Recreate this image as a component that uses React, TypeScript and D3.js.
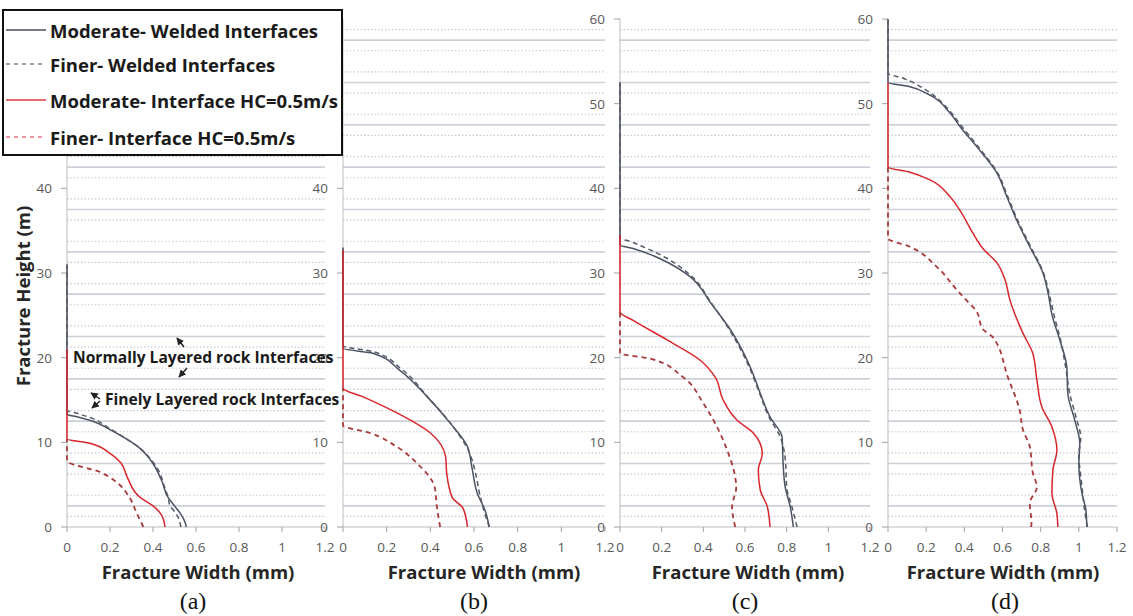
import React from "react";
import * as d3 from "d3";

// ---------- DATA (width mm, height m) ----------
const xTicks = [0, 0.2, 0.4, 0.6, 0.8, 1, 1.2];
const yTicks = [0, 10, 20, 30, 40, 50, 60];
const normalInterfaces = [2.5, 7.5, 12.5, 17.5, 22.5, 27.5, 32.5, 37.5, 42.5, 47.5, 52.5, 57.5];
const fineInterfaces = [1.25, 3.75, 6.25, 8.75, 11.25, 13.75, 16.25, 18.75, 21.25, 23.75, 26.25, 28.75, 31.25, 33.75, 36.25, 38.75, 41.25, 43.75, 46.25, 48.75, 51.25, 53.75, 56.25, 58.75];

const panelLabels = ["(a)", "(b)", "(c)", "(d)"];
const legendLabels = [
  "Moderate- Welded Interfaces",
  "Finer- Welded Interfaces",
  "Moderate- Interface HC=0.5m/s",
  "Finer- Interface HC=0.5m/s",
];

// panel (a)
const aModWelded: [number, number][] = [[0.555, 0], [0.55, 0.5], [0.53, 1.5], [0.5, 2.5], [0.47, 3.5], [0.44, 5.5], [0.4, 7.5], [0.37, 8.5], [0.33, 9.5], [0.27, 10.5], [0.2, 11.5], [0.12, 12.5], [0.05, 13.0], [0, 13.3], [0, 31]];
const aFineWelded: [number, number][] = [[0.53, 0], [0.51, 1.5], [0.48, 2.5], [0.47, 3.5], [0.45, 5], [0.43, 6.5], [0.39, 8], [0.34, 9.3], [0.27, 10.5], [0.2, 11.6], [0.12, 12.8], [0.05, 13.4], [0, 13.8], [0, 31]];
const aModHC: [number, number][] = [[0.456, 0], [0.44, 1.4], [0.4, 2.5], [0.34, 3.5], [0.28, 5.9], [0.25, 7.6], [0.2, 8.7], [0.107, 9.9], [0, 10.4], [0, 21]];
const aFineHC: [number, number][] = [[0.355, 0], [0.325, 1.6], [0.29, 3.5], [0.23, 5.3], [0.153, 6.5], [0, 7.8], [0, 10.4]];

// panel (b)
const bModWelded: [number, number][] = [[0.67, 0], [0.65, 2.0], [0.615, 4.0], [0.59, 7.1], [0.57, 9.5], [0.49, 12.3], [0.385, 15.4], [0.26, 18.5], [0.14, 20.5], [0, 21.1], [0, 33]];
const bFineWelded: [number, number][] = [[0.67, 0], [0.645, 2.0], [0.625, 4.0], [0.61, 6.0], [0.575, 9.0], [0.5, 12.0], [0.39, 15.3], [0.27, 18.6], [0.14, 20.7], [0, 21.4], [0, 33]];
const bModHC: [number, number][] = [[0.57, 0], [0.55, 2.2], [0.5, 3.5], [0.475, 6.4], [0.47, 8.3], [0.4, 11.1], [0.245, 13.5], [0.09, 15.4], [0, 16.4], [0, 32.7]];
const bFineHC: [number, number][] = [[0.445, 0], [0.43, 2.4], [0.42, 4.7], [0.34, 7.5], [0.245, 9.5], [0.124, 11.1], [0, 12.0], [0, 16.4]];

// panel (c)
const cModWelded: [number, number][] = [[0.832, 0], [0.817, 2.4], [0.793, 4.7], [0.783, 7.5], [0.778, 10.6], [0.72, 13.0], [0.673, 15.8], [0.625, 18.9], [0.53, 23.3], [0.44, 26.3], [0.33, 29.7], [0.2, 31.6], [0.063, 32.9], [0, 33.3], [0, 52.5]];
const cFineWelded: [number, number][] = [[0.85, 0], [0.825, 2.4], [0.8, 4.7], [0.795, 7.5], [0.77, 10.6], [0.715, 13.0], [0.67, 15.8], [0.62, 18.9], [0.525, 23.3], [0.44, 26.4], [0.34, 29.7], [0.22, 31.8], [0.12, 33.0], [0.04, 33.8], [0, 34.1], [0, 52.5]];
const cModHC: [number, number][] = [[0.72, 0], [0.707, 2.4], [0.673, 4.4], [0.664, 6.7], [0.683, 8.7], [0.64, 11.1], [0.562, 12.6], [0.495, 15.0], [0.457, 17.7], [0.385, 19.7], [0.226, 22.1], [0.063, 24.4], [0, 25.4], [0, 34.5]];
const cFineHC: [number, number][] = [[0.553, 0], [0.538, 2.4], [0.558, 4.7], [0.553, 5.9], [0.514, 9.1], [0.466, 11.8], [0.4, 14.6], [0.303, 17.7], [0.144, 19.9], [0, 20.5], [0, 25.4]];

// panel (d)
const dModWelded: [number, number][] = [[1.042, 0], [1.037, 2.0], [1.016, 4.0], [1.0, 7.5], [1.005, 9.9], [0.979, 12.6], [0.942, 15.8], [0.937, 18.9], [0.9, 22.1], [0.86, 25.0], [0.84, 27.5], [0.812, 30.0], [0.743, 33.1], [0.675, 36.2], [0.623, 39.0], [0.571, 41.8], [0.466, 44.9], [0.377, 47.3], [0.325, 48.9], [0.204, 51.2], [0.115, 52.0], [0, 52.5], [0, 60]];
const dFineWelded: [number, number][] = [[1.045, 0], [1.03, 2.0], [1.02, 4.0], [1.01, 6.0], [1.0, 8.5], [1.01, 10.5], [0.985, 13.0], [0.955, 15.5], [0.93, 19.0], [0.905, 22.0], [0.87, 25.0], [0.845, 27.5], [0.815, 30.0], [0.75, 33.0], [0.68, 36.2], [0.628, 39.0], [0.575, 41.8], [0.47, 45.0], [0.38, 47.5], [0.31, 49.5], [0.2, 51.6], [0.08, 53.0], [0, 53.6], [0, 60]];
const dModHC: [number, number][] = [[0.89, 0], [0.885, 1.6], [0.859, 4.0], [0.864, 6.7], [0.885, 9.1], [0.859, 11.8], [0.806, 14.2], [0.78, 17.4], [0.759, 20.5], [0.707, 22.9], [0.639, 26.8], [0.613, 29.2], [0.571, 31.2], [0.497, 32.9], [0.445, 34.7], [0.377, 37.4], [0.325, 39.0], [0.22, 41.0], [0.115, 41.9], [0, 42.5], [0, 52.5]];
const dFineHC: [number, number][] = [[0.75, 0], [0.752, 0.5], [0.743, 2.8], [0.78, 4.7], [0.759, 6.4], [0.743, 9.5], [0.707, 11.5], [0.69, 13.8], [0.628, 17.7], [0.55, 22.4], [0.5, 23.3], [0.46, 25.6], [0.41, 26.8], [0.361, 28.0], [0.257, 30.7], [0.115, 33.1], [0, 34.1], [0, 42.5]];

const panelSeries = [
  [aModWelded, aFineWelded, aModHC, aFineHC],
  [bModWelded, bFineWelded, bModHC, bFineHC],
  [cModWelded, cFineWelded, cModHC, cFineHC],
  [dModWelded, dFineWelded, dModHC, dFineHC],
];

// ---------- LAYOUT / STYLE ----------
const W = 1133;
const H = 616;
const panelX = [
  [67, 325],
  [343, 605],
  [620, 870],
  [888, 1117],
];
const widthTitleX = [198, 484, 748, 1003];
const captionX = [193, 474, 745, 1005];
const yRange: [number, number] = [527, 19];
const legendBox = { x: 3, y: 10, w: 339, h: 145 };

const seriesStyles = [
  { stroke: "#4a5263", dash: "", width: 1.5 },
  { stroke: "#555a66", dash: "5,3.5", width: 1.5 },
  { stroke: "#d8262c", dash: "", width: 1.5 },
  { stroke: "#a93a3a", dash: "5,4", width: 1.8 },
];
const legendStyles = [
  { stroke: "#4a4f5a", dash: "" },
  { stroke: "#7a7f8a", dash: "4,4" },
  { stroke: "#e03a3e", dash: "" },
  { stroke: "#e07a80", dash: "4,4" },
];

const FONT = "'Open Sans', 'Noto Sans', sans-serif";

function Panel({ idx }: { idx: number }) {
  const [x0, x1] = panelX[idx];
  const x = d3.scaleLinear().domain([0, 1.2]).range([x0, x1]);
  const y = d3.scaleLinear().domain([0, 60]).range(yRange);
  const line = d3
    .line<[number, number]>()
    .x((d) => x(d[0]))
    .y((d) => y(d[1]))
    .curve(d3.curveMonotoneY);
  // tick labels that sit beneath the legend box are hidden in the original
  const hiddenByLegend = (t: number) =>
    x0 - 15 <= legendBox.x + legendBox.w + 4 && y(t) <= legendBox.y + legendBox.h + 6;
  return (
    <g>
      {fineInterfaces.map((h) => (
        <line
          key={"f" + h}
          x1={x0}
          x2={x1}
          y1={y(h)}
          y2={y(h)}
          stroke="#c6c8d4"
          strokeWidth={1.2}
          strokeDasharray="1.5,2"
        />
      ))}
      {normalInterfaces.map((h) => (
        <line
          key={"n" + h}
          x1={x0}
          x2={x1}
          y1={y(h)}
          y2={y(h)}
          stroke="#cdd0d8"
          strokeWidth={1.6}
        />
      ))}
      <line x1={x0} x2={x0} y1={y(0)} y2={y(60)} stroke="#bdbdbd" strokeWidth={1} />
      <line x1={x0} x2={x1} y1={y(0)} y2={y(0)} stroke="#bdbdbd" strokeWidth={1} />
      {yTicks.map((t) => (
        <g key={"yt" + t}>
          <line x1={x0 - 6} x2={x0} y1={y(t)} y2={y(t)} stroke="#a0a0a0" />
          {!hiddenByLegend(t) && (
            <text
              x={x0 - 15}
              y={y(t)}
              textAnchor="end"
              dominantBaseline="central"
              fontFamily={FONT}
              fontSize={13.5}
              fill="#595959"
            >
              {t}
            </text>
          )}
        </g>
      ))}
      {xTicks.map((t) => (
        <g key={"xt" + t}>
          <line x1={x(t)} x2={x(t)} y1={y(0)} y2={y(0) + 5} stroke="#a0a0a0" />
          <text
            x={x(t)}
            y={y(0) + 20}
            textAnchor="middle"
            dominantBaseline="central"
            fontFamily={FONT}
            fontSize={13.5}
            fill="#595959"
          >
            {t}
          </text>
        </g>
      ))}
      {panelSeries[idx].map((s, i) => (
        <path
          key={"s" + i}
          d={line(s) || ""}
          fill="none"
          stroke={seriesStyles[i].stroke}
          strokeWidth={seriesStyles[i].width}
          strokeDasharray={seriesStyles[i].dash || undefined}
        />
      ))}
      <text
        x={widthTitleX[idx]}
        y={571}
        textAnchor="middle"
        dominantBaseline="central"
        fontFamily={FONT}
        fontWeight="bold"
        fontSize={18.5}
        fill="#262626"
      >
        Fracture Width (mm)
      </text>
      <text
        x={captionX[idx]}
        y={609}
        textAnchor="middle"
        fontFamily="'Liberation Serif', 'DejaVu Serif', serif"
        fontSize={24}
        fill="#111"
      >
        {panelLabels[idx]}
      </text>
    </g>
  );
}

export default function App() {
  return (
    <svg
      width={W}
      height={H}
      style={{ position: "absolute", left: 0, top: 0, background: "#fff" }}
    >
      <defs>
        <marker
          id="arr"
          viewBox="0 0 10 10"
          refX="9"
          refY="5"
          markerWidth="5"
          markerHeight="5"
          orient="auto-start-reverse"
        >
          <path d="M0,0 L10,5 L0,10 z" fill="#222" />
        </marker>
      </defs>
      <rect x={0} y={0} width={W} height={H} fill="#fff" />
      {[0, 1, 2, 3].map((i) => (
        <Panel key={i} idx={i} />
      ))}

      <text
        transform="translate(22,296) rotate(-90)"
        textAnchor="middle"
        dominantBaseline="central"
        fontFamily={FONT}
        fontWeight="bold"
        fontSize={18.5}
        fill="#262626"
      >
        Fracture Height (m)
      </text>

      <text
        x={73}
        y={357}
        dominantBaseline="central"
        fontFamily={FONT}
        fontWeight="bold"
        fontSize={15.6}
        fill="#1a1a1a"
      >
        Normally Layered rock Interfaces
      </text>
      <line x1={184} y1={347} x2={177} y2={338} stroke="#222" strokeWidth={1.5} markerEnd="url(#arr)" />
      <line x1={187} y1={368} x2={179} y2={377} stroke="#222" strokeWidth={1.5} markerEnd="url(#arr)" />
      <text
        x={105}
        y={399}
        dominantBaseline="central"
        fontFamily={FONT}
        fontWeight="bold"
        fontSize={15.6}
        fill="#1a1a1a"
      >
        Finely Layered rock Interfaces
      </text>
      <line x1={100} y1={399} x2={91} y2={393} stroke="#222" strokeWidth={1.5} markerEnd="url(#arr)" />
      <line x1={100} y1={401} x2={92} y2={408} stroke="#222" strokeWidth={1.5} markerEnd="url(#arr)" />

      <rect
        x={legendBox.x}
        y={legendBox.y}
        width={legendBox.w}
        height={legendBox.h}
        fill="#fff"
        stroke="#111"
        strokeWidth={2}
      />
      {legendLabels.map((lab, i) => {
        const ly = [30, 64, 100, 137][i];
        return (
          <g key={lab}>
            <line
              x1={6}
              x2={46}
              y1={ly}
              y2={ly}
              stroke={legendStyles[i].stroke}
              strokeWidth={1.5}
              strokeDasharray={legendStyles[i].dash || undefined}
            />
            <text
              x={50}
              y={ly}
              dominantBaseline="central"
              fontFamily={FONT}
              fontWeight="bold"
              fontSize={18.5}
              fill="#1a1a1a"
            >
              {lab}
            </text>
          </g>
        );
      })}
    </svg>
  );
}
